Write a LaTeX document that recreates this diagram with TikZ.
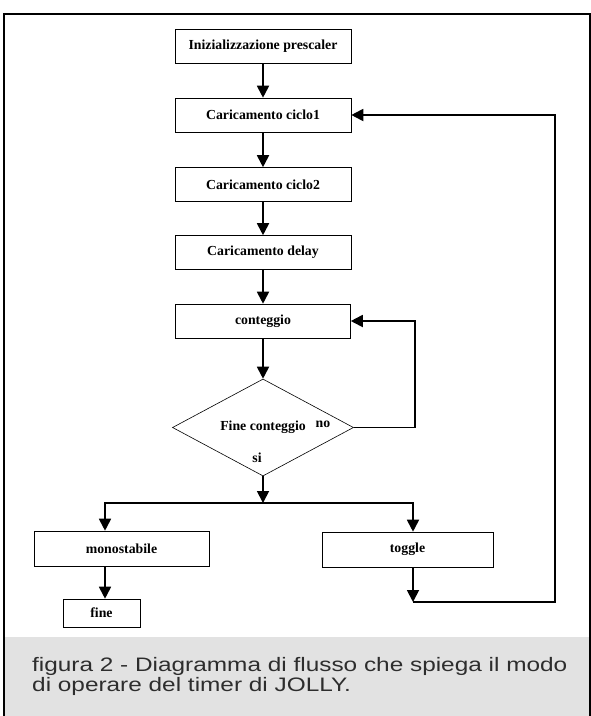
\documentclass[tikz,border=0pt]{standalone}
\usepackage{fontspec}
\setmainfont{Liberation Serif}
\newfontfamily\didafont[FakeStretch=1.25]{Liberation Sans}
\usetikzlibrary{shapes.geometric,arrows.meta}
\definecolor{fondo}{RGB}{226,226,226}
\definecolor{testo}{RGB}{45,45,45}

\begin{document}
\begin{tikzpicture}[x=1pt, y=-1pt,
		blocco/.style={draw, line width=0.6pt, minimum width=176pt, minimum height=34pt, inner sep=0pt, font=\fontsize{13.8}{16}\selectfont\bfseries},
		scelta/.style={draw, diamond, line width=0.6pt, aspect=1.87, minimum width=181pt, minimum height=97pt, inner sep=0pt, font=\fontsize{13.8}{16}\selectfont\bfseries},
		etich/.style={inner sep=0pt, font=\fontsize{13.8}{16}\selectfont\bfseries},
		freccia/.style={-{Triangle[length=12pt,width=12pt]}, line width=1.8pt},
		dida/.style={anchor=base west, inner sep=0pt, text=testo, font=\didafont\fontsize{19.5}{20}\selectfont}]
				\begin{scope}
					\useasboundingbox (0,0) rectangle (591,716);
					\fill[fondo] (4,637) rectangle (590,716);
					\draw[line width=2pt] (4,716) -- (4,14) -- (590,14) -- (590,716);

					\node[blocco] (init) at (263,46.5) {Inizializzazione prescaler};
					\node[blocco] (ciclo1) at (263,115) {Caricamento ciclo1};
					\node[blocco] (ciclo2) at (263,184.5) {Caricamento ciclo2};
					\node[blocco] (delay) at (263,252.5) {Caricamento delay};
					\node[blocco, minimum width=175pt] (cont) at (263,321) {conteggio};
					\node[scelta] (test) at (263,427.5) {Fine conteggio};
					\node[etich] (no) at (323,424) {no};
					\node[etich] (si) at (257,458) {si};

					\node[blocco, minimum width=175pt, minimum height=35pt] (mono) at (121.5,548.5) {monostabile};
					\node[blocco, minimum width=171pt, minimum height=35pt] (toggle) at (407.5,549.5) {toggle};
					\node[blocco, minimum width=77pt, minimum height=28pt] (fine) at (101.5,613) {fine};

					\coordinate (bivio) at (263,503);
					\coordinate (sx) at (105,503);
					\coordinate (dx) at (413,503);
					\coordinate (giu) at (413,602);
					\coordinate (ritorno) at (555,602);
					\coordinate (ritno) at (415,427.5);

					\draw[freccia] (init) -- (ciclo1); % da init a ciclo1
					\draw[freccia] (ciclo1) -- (ciclo2); % da ciclo1 a ciclo2
					\draw[freccia] (ciclo2) -- (delay); % da ciclo2 a delay
					\draw[freccia] (delay) -- (cont); % da delay a conteggio
					\draw[freccia] (cont) -- (test); % da conteggio al test
					\draw[freccia] (test.east) -- (ritno) |- (cont.east); % ramo no
					\draw[freccia] (test) -- (bivio); % ramo si

					\draw[freccia] (bivio) -- (sx) -- (sx |- mono.north); % verso monostabile
					\draw[freccia] (bivio) -- (dx) -- (dx |- toggle.north); % verso toggle
					\draw[freccia] (sx |- mono.south) -- (sx |- fine.north); % da monostabile a fine
					\draw[freccia] (dx |- toggle.south) -- (giu); % da toggle in giu
					\draw[freccia] (giu) -- (ritorno) |- (ciclo1.east); % ritorno a ciclo1

					\node[dida] (dida1) at (32,671.7) {figura 2 - Diagramma di flusso che spiega il modo};
					\node[dida] (dida2) at (32,691.7) {di operare del timer di JOLLY.};
				\end{scope}
			\end{tikzpicture}
\end{document}
